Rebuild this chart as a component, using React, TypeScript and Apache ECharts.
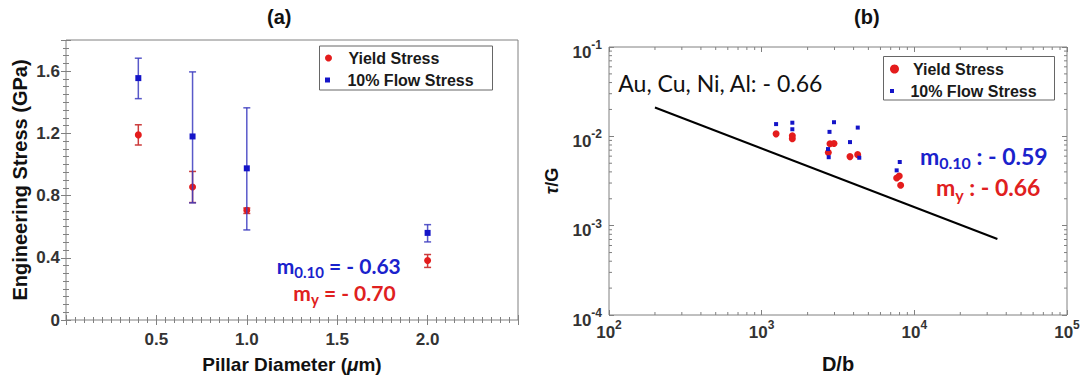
import React, { useEffect, useRef } from 'react';
import * as echarts from 'echarts';

// ---------- Panel (a) data ----------
const diameters = [0.4, 0.7, 1.0, 2.0];
const yieldStress = [1.19, 0.855, 0.705, 0.383];
const yieldLow = [1.125, 0.755, 0.685, 0.338];
const yieldHigh = [1.255, 0.955, 0.72, 0.421];
const flowStress = [1.555, 1.18, 0.975, 0.56];
const flowLow = [1.423, 0.753, 0.579, 0.502];
const flowHigh = [1.683, 1.595, 1.364, 0.613];
const xTicksA = [0.5, 1.0, 1.5, 2.0];
const yTicksA = [0, 0.4, 0.8, 1.2, 1.6];

// ---------- Panel (b) data ----------
const dbYield = [1243, 1588, 1588, 2803, 2978, 2733, 3789, 4255, 7661, 7965, 8135];
const tauYield = [0.01066, 0.01013, 0.00938, 0.00825, 0.00831, 0.0066, 0.00593, 0.00624, 0.00342, 0.00359, 0.00284];
const dbFlow = [1243, 1588, 1588, 2978, 2782, 2720, 2749, 4260, 3789, 4359, 8026, 7661];
const tauFlow = [0.01371, 0.01421, 0.012, 0.01439, 0.01122, 0.0072, 0.00584, 0.01253, 0.00862, 0.00576, 0.00516, 0.00416];
const lineDb = [200, 35000];
const lineTau = [0.021, 0.00071];
const xDecadesB = [100, 1000, 10000, 100000];
const yDecadesB = [0.0001, 0.001, 0.01, 0.1];
const minorMultipliers = [2, 3, 4, 5, 6, 7, 8, 9];

const RED = '#e41c1c';
const BLUE = '#1414c8';
const TICK = '#808080';
const LABEL = '#333333';
const FONT = "'Liberation Sans', Arial, sans-serif";
const CAL = "Lato, 'Open Sans', sans-serif";

function minorValues(decades: number[]) {
  const out: number[] = [];
  for (let i = 0; i < decades.length - 1; i++) {
    for (const m of minorMultipliers) out.push(decades[i] * m);
  }
  return out;
}

function errorBarSeries(name: string, lows: number[], highs: number[], color: string, z: number, opacity: number) {
  return {
    type: 'custom',
    name,
    xAxisIndex: 0,
    yAxisIndex: 0,
    z,
    silent: true,
    data: diameters.map((d, i) => [d, lows[i], highs[i]]),
    encode: { x: 0, y: [1, 2] },
    renderItem: (params: any, api: any) => {
      const x = api.value(0);
      const lo = api.coord([x, api.value(1)]);
      const hi = api.coord([x, api.value(2)]);
      const hw = 3.5;
      const style = { stroke: color, lineWidth: 1.5, opacity };
      return {
        type: 'group',
        children: [
          { type: 'line', shape: { x1: lo[0], y1: lo[1], x2: hi[0], y2: hi[1] }, style },
          { type: 'line', shape: { x1: lo[0] - hw, y1: lo[1], x2: lo[0] + hw, y2: lo[1] }, style },
          { type: 'line', shape: { x1: hi[0] - hw, y1: hi[1], x2: hi[0] + hw, y2: hi[1] }, style },
        ],
      };
    },
  };
}

function logMinorSeries(axisIdx: number, values: number[], dir: 'x' | 'y') {
  return {
    type: 'custom',
    xAxisIndex: axisIdx,
    yAxisIndex: axisIdx,
    silent: true,
    clip: false,
    z: 1,
    data: values.map((v) => (dir === 'x' ? [v, yDecadesB[0]] : [xDecadesB[0], v])),
    renderItem: (params: any, api: any) => {
      const style = { stroke: TICK, lineWidth: 1 };
      if (dir === 'x') {
        const v = api.value(0);
        const b = api.coord([v, yDecadesB[0]]);
        const t = api.coord([v, yDecadesB[yDecadesB.length - 1]]);
        return {
          type: 'group',
          children: [
            { type: 'line', shape: { x1: b[0], y1: b[1], x2: b[0], y2: b[1] - 3 }, style },
            { type: 'line', shape: { x1: t[0], y1: t[1], x2: t[0], y2: t[1] + 3 }, style },
          ],
        };
      }
      const v = api.value(1);
      const l = api.coord([xDecadesB[0], v]);
      const r = api.coord([xDecadesB[xDecadesB.length - 1], v]);
      return {
        type: 'group',
        children: [
          { type: 'line', shape: { x1: l[0], y1: l[1], x2: l[0] + 3, y2: l[1] }, style },
          { type: 'line', shape: { x1: r[0], y1: r[1], x2: r[0] - 3, y2: r[1] }, style },
        ],
      };
    },
  };
}

const near = (arr: number[], v: number) => arr.some((t) => Math.abs(t - v) < 1e-6);

const tickCommon = {
  axisLine: { show: false },
  axisTick: { show: true, inside: true, length: 5, lineStyle: { color: TICK } },
  splitLine: { show: false },
};

const logLabelRich = {
  s: { fontSize: 12, fontWeight: 'bold', color: LABEL, fontFamily: FONT, lineHeight: 13, verticalAlign: 'top' },
};
const logFormatter = (v: number) => `10{s|${Math.round(Math.log10(v))}}`;

function annotation(x: number, y: number, main: string, sub: string, rest: string, color: string, size: number, subSize: number) {
  return {
    type: 'text',
    x,
    y,
    z: 10,
    style: {
      text: `{m|${main}}{s|${sub}}{m|${rest}}`,
      align: 'left',
      verticalAlign: 'middle',
      rich: {
        m: { fontSize: size, fontWeight: 'bold', fontFamily: CAL, fill: color, lineHeight: size + 7, verticalAlign: 'middle' },
        s: { fontSize: subSize, fontWeight: 'bold', fontFamily: CAL, fill: color, lineHeight: subSize, verticalAlign: 'bottom' },
      },
    },
  };
}

const legendText = { fontSize: 16, fontWeight: 'bold', color: '#1a1a1a', fontFamily: FONT, lineHeight: 20 };
const SQUARE = 'path://M0,0H10V10H0Z';

export default function App() {
  const ref = useRef<HTMLDivElement>(null);
  useEffect(() => {
    document.body.style.margin = '0';
    const chart = echarts.init(ref.current!, undefined, { renderer: 'svg' });
    const option: any = {
      animation: false,
      backgroundColor: '#ffffff',
      textStyle: { fontFamily: FONT },
      title: [
        { text: '(a)', left: 267, top: 7, padding: 0, textStyle: { fontSize: 20, fontWeight: 'bold', color: '#111', fontFamily: FONT } },
        { text: '(b)', left: 854, top: 7, padding: 0, textStyle: { fontSize: 20, fontWeight: 'bold', color: '#111', fontFamily: FONT } },
      ],
      grid: [
        { left: 66, top: 40, width: 452, height: 282, show: true, borderColor: TICK, borderWidth: 1, backgroundColor: 'transparent' },
        { left: 609, top: 47, width: 458, height: 269, show: true, borderColor: TICK, borderWidth: 1, backgroundColor: 'transparent' },
      ],
      legend: [
        { left: 325, top: 48, padding: 0, itemWidth: 29.8, itemHeight: 7, selectedMode: false, data: [{ name: 'Yield Stress', icon: 'circle', itemStyle: { color: RED } }], textStyle: legendText },
        { left: 325, top: 70, padding: 0, itemWidth: 29.8, itemHeight: 5, selectedMode: false, data: [{ name: '10% Flow Stress', icon: SQUARE, itemStyle: { color: BLUE } }], textStyle: legendText },
        { left: 890, top: 59, padding: 0, itemWidth: 26.8, itemHeight: 9, selectedMode: false, data: [{ name: 'Yield Stress', icon: 'circle', itemStyle: { color: RED } }], textStyle: legendText },
        { left: 890, top: 81, padding: 0, itemWidth: 26.8, itemHeight: 4, selectedMode: false, data: [{ name: '10% Flow Stress', icon: SQUARE, itemStyle: { color: BLUE } }], textStyle: legendText },
      ],
      xAxis: [
        {
          type: 'value', gridIndex: 0, min: 0, max: 2.5, interval: 0.5, position: 'bottom', ...tickCommon,
          minorTick: { show: true, splitNumber: 10, length: 3, lineStyle: { color: TICK } },
          axisLabel: { margin: 11, fontSize: 17, fontWeight: 'bold', color: LABEL, formatter: (v: number) => (near(xTicksA, v) ? v.toFixed(1) : '') },
          name: 'Pillar Diameter ({i|μ}m)', nameLocation: 'middle', nameGap: 35,
          nameTextStyle: { fontSize: 19, fontWeight: 'bold', color: '#111', rich: { i: { fontSize: 19, fontWeight: 'bold', fontStyle: 'italic', color: '#111' } } },
        },
        {
          type: 'value', gridIndex: 0, min: 0, max: 2.5, interval: 0.5, position: 'top', ...tickCommon,
          minorTick: { show: true, splitNumber: 10, length: 3, lineStyle: { color: TICK } },
          axisLabel: { show: false },
        },
        {
          type: 'log', logBase: 10, gridIndex: 1, min: xDecadesB[0], max: xDecadesB[3], position: 'bottom', ...tickCommon,
          axisLabel: { margin: 4, fontSize: 17, fontWeight: 'bold', color: LABEL, fontFamily: FONT, lineHeight: 26, formatter: logFormatter, rich: logLabelRich },
          name: 'D/b', nameLocation: 'middle', nameGap: 39,
          nameTextStyle: { fontSize: 20, fontWeight: 'bold', color: '#111' },
        },
        {
          type: 'log', logBase: 10, gridIndex: 1, min: xDecadesB[0], max: xDecadesB[3], position: 'top', ...tickCommon,
          axisLabel: { show: false },
        },
      ],
      yAxis: [
        {
          type: 'value', gridIndex: 0, min: 0, max: 1.8, interval: 0.4, position: 'left', ...tickCommon,
          minorTick: { show: true, splitNumber: 8, length: 3, lineStyle: { color: TICK } },
          axisLabel: { margin: 6, fontSize: 17, fontWeight: 'bold', color: LABEL, formatter: (v: number) => (near(yTicksA, v) ? (Math.abs(v) < 1e-9 ? '0' : v.toFixed(1)) : '') },
          name: 'Engineering Stress (GPa)', nameLocation: 'middle', nameGap: 36,
          nameTextStyle: { fontSize: 20, fontWeight: 'bold', color: '#111' },
        },
        {
          type: 'value', gridIndex: 0, min: 0, max: 1.8, interval: 0.4, position: 'right', ...tickCommon,
          minorTick: { show: true, splitNumber: 8, length: 3, lineStyle: { color: TICK } },
          axisLabel: { show: false },
        },
        {
          type: 'log', logBase: 10, gridIndex: 1, min: yDecadesB[0], max: yDecadesB[3], position: 'left', ...tickCommon,
          axisLabel: { margin: 7, fontSize: 17, fontWeight: 'bold', color: LABEL, fontFamily: FONT, lineHeight: 26, formatter: logFormatter, rich: logLabelRich, padding: [10, 0, 0, 0] },
          name: '{t|τ}/G', nameLocation: 'middle', nameGap: 48,
          nameTextStyle: { fontSize: 18, fontWeight: 'bold', color: '#111', rich: { t: { fontSize: 18, fontStyle: 'italic', fontWeight: 'bold', color: '#111' } } },
        },
        {
          type: 'log', logBase: 10, gridIndex: 1, min: yDecadesB[0], max: yDecadesB[3], position: 'right', ...tickCommon,
          axisLabel: { show: false },
        },
      ],
      series: [
        errorBarSeries('Yield Stress error', yieldLow, yieldHigh, '#cc3b3b', 2, 1),
        {
          name: 'Yield Stress', type: 'scatter', xAxisIndex: 0, yAxisIndex: 0, symbol: 'circle', symbolSize: 7, z: 3,
          itemStyle: { color: RED, opacity: 1 },
          data: diameters.map((d, i) => [d, yieldStress[i]]),
        },
        errorBarSeries('10% Flow Stress error', flowLow, flowHigh, '#3c3cc0', 4, 0.85),
        {
          name: '10% Flow Stress', type: 'scatter', xAxisIndex: 0, yAxisIndex: 0, symbol: 'rect', symbolSize: 6, z: 5,
          itemStyle: { color: BLUE, opacity: 1 },
          data: diameters.map((d, i) => [d, flowStress[i]]),
        },
        logMinorSeries(2, minorValues(xDecadesB), 'x'),
        logMinorSeries(2, minorValues(yDecadesB), 'y'),
        {
          name: 'Au, Cu, Ni, Al', type: 'line', xAxisIndex: 2, yAxisIndex: 2, symbol: 'none', z: 2,
          lineStyle: { color: '#000', width: 2 },
          data: lineDb.map((d, i) => [d, lineTau[i]]),
        },
        {
          name: 'Yield Stress', type: 'scatter', xAxisIndex: 2, yAxisIndex: 2, symbol: 'circle', symbolSize: 7, z: 3,
          itemStyle: { color: RED, opacity: 1 },
          data: dbYield.map((d, i) => [d, tauYield[i]]),
        },
        {
          name: '10% Flow Stress', type: 'scatter', xAxisIndex: 2, yAxisIndex: 2, symbol: 'rect', symbolSize: 4, z: 4,
          itemStyle: { color: BLUE, opacity: 1 },
          data: dbFlow.map((d, i) => [d, tauFlow[i]]),
        },
      ],
      graphic: [
        { type: 'rect', z: 3, shape: { x: 319.5, y: 46, width: 173, height: 44 }, style: { fill: '#fff', stroke: '#666', lineWidth: 1 } },
        { type: 'rect', z: 3, shape: { x: 883.5, y: 56.5, width: 171, height: 43.5 }, style: { fill: '#fff', stroke: '#666', lineWidth: 1 } },
        annotation(276.7, 265.5, 'm', '0.10', ' = - 0.63', '#1a22cc', 21, 15),
        annotation(293.3, 292, 'm', 'y', ' = - 0.70', '#e02020', 21, 15),
        annotation(920, 155.5, 'm', '0.10', ' : - 0.59', '#1a22cc', 23, 16),
        annotation(936, 187, 'm', 'y', ' : - 0.66', '#e02020', 23, 16),
        {
          type: 'text', x: 618.3, y: 83, z: 10,
          style: { text: 'Au, Cu, Ni, Al: - 0.66', fontSize: 23, fontFamily: CAL, fill: '#111', align: 'left', verticalAlign: 'middle' },
        },
      ],
    };
    chart.setOption(option);
    return () => chart.dispose();
  }, []);
  return <div ref={ref} style={{ width: 1087, height: 379 }} />;
}
